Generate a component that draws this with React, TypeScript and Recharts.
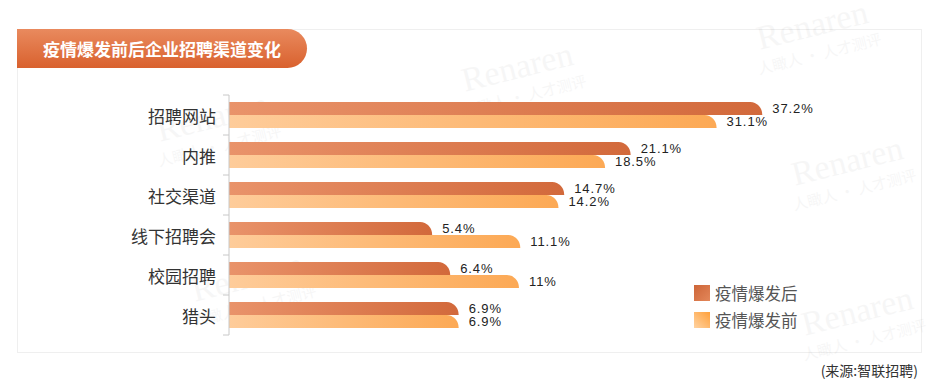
import { BarChart, Bar, XAxis, YAxis, LabelList } from 'recharts'

const channels = ['招聘网站', '内推', '社交渠道', '线下招聘会', '校园招聘', '猎头']
const afterOutbreak = [37.2, 21.1, 14.7, 5.4, 6.4, 6.9]
const beforeOutbreak = [31.1, 18.5, 14.2, 11.1, 11, 6.9]
const seriesNames = ['疫情爆发后', '疫情爆发前']

const data = channels.map((name, i) => ({
  name,
  after: afterOutbreak[i],
  before: beforeOutbreak[i],
}))

const FONT = '"Noto Sans CJK SC", "Noto Sans", sans-serif'

// bar with a rounded top-right end, like the original
function RoundEnd(props: any) {
  const { x, y, width, height, fill } = props
  if (!width || width <= 0) return null
  const r = Math.min(12, width)
  const d = `M${x},${y} H${x + width - r} A${r} ${height} 0 0 1 ${x + width},${y + height} H${x} Z`
  return <path d={d} fill={fill} />
}

function ChannelTick(props: any) {
  const { x, y, payload, index } = props
  const half = payload?.offset ?? 20
  return (
    <g>
      <line x1={x - 6} x2={x} y1={y - half} y2={y - half} stroke="#c8c8c8" />
      {index === channels.length - 1 && (
        <line x1={x - 6} x2={x} y1={y + half} y2={y + half} stroke="#c8c8c8" />
      )}
      <text
        x={x - 13}
        y={y}
        textAnchor="end"
        dominantBaseline="central"
        fontSize={17}
        fill="#333"
        fontFamily={FONT}
      >
        {payload.value}
      </text>
    </g>
  )
}

function ValueLabel(props: any) {
  const { x, y, width, height, value } = props
  return (
    <text
      x={x + width + 10}
      y={y + height / 2}
      dominantBaseline="central"
      fontSize={13}
      letterSpacing={0.9}
      fill="#222"
      fontFamily='"Liberation Sans", Arial, sans-serif'
    >
      {`${value}%`}
    </text>
  )
}

const watermarks = [
  { x: 815, y: 36 },
  { x: 520, y: 78 },
  { x: 215, y: 128 },
  { x: 850, y: 172 },
  { x: 250, y: 288 },
  { x: 860, y: 322 },
]

export default function App() {
  return (
    <div style={{ position: 'absolute', left: 0, top: 0, width: 941, height: 392, background: '#fff' }}>
      <div
        style={{
          position: 'absolute',
          left: 17,
          top: 29,
          width: 903,
          height: 322,
          border: '1px solid #efefef',
        }}
      />
      <svg width={941} height={392} style={{ position: 'absolute', left: 0, top: 0 }}>
        {watermarks.map((w, i) => (
          <g key={i} transform={`rotate(-14 ${w.x} ${w.y})`} fill="#000" opacity={0.03} fontFamily={FONT}>
            <text x={w.x} y={w.y} textAnchor="middle" fontSize={34} fontFamily="Liberation Serif, serif">
              Renaren
            </text>
            <text x={w.x} y={w.y + 24} textAnchor="middle" fontSize={15}>
              人瞰人 · 人才测评
            </text>
          </g>
        ))}
      </svg>
      <div
        style={{
          position: 'absolute',
          left: 17,
          top: 29,
          width: 290,
          height: 39,
          borderRadius: '0 20px 20px 0',
          background: 'linear-gradient(180deg, #e98a5e 0%, #d9612e 100%)',
          color: '#fff',
          fontFamily: FONT,
          fontWeight: 700,
          fontSize: 17,
          lineHeight: '39px',
          textAlign: 'center',
        }}
      >
        疫情爆发前后企业招聘渠道变化
      </div>
      <div style={{ position: 'absolute', left: 0, top: 0 }}>
        <BarChart
          width={941}
          height={392}
          data={data}
          layout="vertical"
          barSize={13}
          barGap={0}
          margin={{ top: 95, right: 159, bottom: 57, left: 0 }}
        >
          <defs>
            <linearGradient id="gAfter" x1="0" y1="0" x2="1" y2="0">
              <stop offset="0%" stopColor="#e9936a" />
              <stop offset="100%" stopColor="#d2693b" />
            </linearGradient>
            <linearGradient id="gBefore" x1="0" y1="0" x2="1" y2="0">
              <stop offset="0%" stopColor="#fecc9a" />
              <stop offset="100%" stopColor="#fca955" />
            </linearGradient>
          </defs>
          <XAxis type="number" scale="sqrt" domain={[0, 40]} hide />
          <YAxis
            type="category"
            dataKey="name"
            width={229}
            axisLine={{ stroke: '#c8c8c8' }}
            tickLine={false}
            tickSize={0}
            tickMargin={0}
            interval={0}
            tick={<ChannelTick />}
          />
          <Bar dataKey="after" name={seriesNames[0]} fill="url(#gAfter)" shape={<RoundEnd />} isAnimationActive={false}>
            <LabelList dataKey="after" content={<ValueLabel />} />
          </Bar>
          <Bar dataKey="before" name={seriesNames[1]} fill="url(#gBefore)" shape={<RoundEnd />} isAnimationActive={false}>
            <LabelList dataKey="before" content={<ValueLabel />} />
          </Bar>
        </BarChart>
      </div>
      <svg width={941} height={392} style={{ position: 'absolute', left: 0, top: 0, pointerEvents: 'none' }}>
        <defs>
          <linearGradient id="lgAfter" x1="0" y1="0" x2="1" y2="1">
            <stop offset="0%" stopColor="#cd6538" />
            <stop offset="100%" stopColor="#e3875a" />
          </linearGradient>
          <linearGradient id="lgBefore" x1="1" y1="0" x2="0" y2="1">
            <stop offset="0%" stopColor="#ffa03a" />
            <stop offset="100%" stopColor="#ffd3a2" />
          </linearGradient>
        </defs>
        {seriesNames.map((s, i) => (
          <g key={s}>
            <rect x={694} y={285 + i * 27} width={16} height={16} fill={i === 0 ? 'url(#lgAfter)' : 'url(#lgBefore)'} />
            <text x={715} y={293 + i * 27} dominantBaseline="central" fontSize={16.5} fill="#555" fontFamily={FONT}>
              {s}
            </text>
          </g>
        ))}
        <text x={918} y={370} textAnchor="end" dominantBaseline="central" fontSize={14} fill="#333" fontFamily={FONT}>
          (来源:智联招聘)
        </text>
      </svg>
    </div>
  )
}
